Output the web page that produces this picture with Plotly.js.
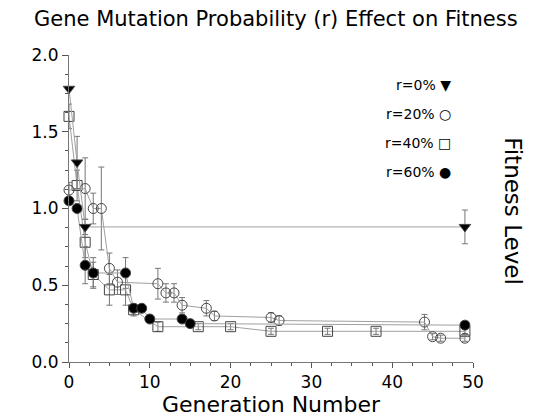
<!DOCTYPE html>
<html>
<head>
<meta charset="utf-8">
<script src="https://cdn.plot.ly/plotly-3.0.1.min.js"></script>
<style>html,body{margin:0;padding:0;background:#fff;}#chart{width:535px;height:417px;}</style>
</head>
<body>
<div id="chart"></div>
<script>
// r = 0%
const x0 = [0, 1, 2, 49];
const y0 = [1.78, 1.30, 0.88, 0.88];
const e0 = [0, 0.17, 0.05, 0.11];
// r = 20%
const x20 = [0, 2, 3, 4, 5, 6, 11, 12, 13, 14, 17, 18, 25, 26, 44, 45, 46, 49];
const y20 = [1.12, 1.13, 1.0, 1.0, 0.61, 0.52, 0.51, 0.45, 0.45, 0.37, 0.35, 0.30, 0.29, 0.27, 0.26, 0.165, 0.155, 0.155];
const e20 = [0.05, 0.2, 0.1, 0.27, 0.1, 0.08, 0.1, 0.06, 0.06, 0.05, 0.05, 0.03, 0.03, 0.03, 0.05, 0.02, 0.02, 0.02];
// r = 40%
const x40 = [0, 1, 2, 3, 5, 7, 8, 11, 16, 20, 25, 32, 38, 49];
const y40 = [1.60, 1.15, 0.78, 0.57, 0.47, 0.47, 0.34, 0.23, 0.23, 0.23, 0.20, 0.20, 0.20, 0.20];
const e40 = [0.08, 0.1, 0.1, 0.08, 0.1, 0.1, 0.04, 0.03, 0.02, 0.02, 0.02, 0.02, 0.02, 0.02];
// r = 60%
const x60 = [0, 1, 2, 3, 7, 8, 9, 10, 14, 15, 49];
const y60 = [1.05, 1.0, 0.63, 0.58, 0.58, 0.35, 0.35, 0.28, 0.28, 0.25, 0.24];
const e60 = [0, 0, 0.12, 0.1, 0.1, 0, 0, 0, 0, 0, 0];

const legendLabels = ["r=0% \u25BC", "r=20% \u25CB", "r=40% \u25A1", "r=60% \u25CF"];
const titleText = "Gene Mutation Probability (r) Effect on Fitness";
const xTitle = "Generation Number";
const yTitle = "Fitness Level";

const FONT = "DejaVu Sans, sans-serif";

function series(x, y, e, symbol, fill) {
  return {
    type: "scatter", mode: "lines+markers", x: x, y: y,
    cliponaxis: false,
    line: {color: "#a0a0a0", width: 1},
    marker: {symbol: symbol, size: 10, color: fill, line: {color: "#444", width: 1}},
    error_y: {type: "data", array: e, visible: true, color: "#777", thickness: 1, width: 3},
    showlegend: false
  };
}

const data = [
  series(x40, y40, e40, "square-open", "#444"),
  series(x20, y20, e20, "circle-open", "#444"),
  series(x60, y60, e60, "circle", "#000"),
  series(x0, y0, e0, "triangle-down", "#000")
];

const annotations = legendLabels.map((t, i) => ({
  xref: "paper", yref: "paper", x: 0.95, y: 0.903 - i * 0.095,
  xanchor: "right", yanchor: "middle", showarrow: false,
  text: t, font: {family: FONT, size: 14, color: "#000"}
}));
annotations.push({
  xref: "paper", yref: "paper", x: 1.1, y: 0.49, xanchor: "center", yanchor: "middle",
  showarrow: false, textangle: 90, text: yTitle,
  font: {family: FONT, size: 23, color: "#000"}
});

const layout = {
  width: 535, height: 417,
  margin: {l: 69, r: 62, t: 55, b: 55},
  paper_bgcolor: "#fff", plot_bgcolor: "#fff",
  font: {family: FONT, size: 16, color: "#000"},
  title: {text: titleText, x: 0.512, xref: "paper", xanchor: "center", y: 0.955, yanchor: "middle",
          font: {family: FONT, size: 21, color: "#000"}},
  xaxis: {
    range: [0, 50], dtick: 10, tick0: 0, showgrid: false, zeroline: false,
    showline: true, linecolor: "#777", linewidth: 1,
    ticks: "outside", ticklen: 5, tickcolor: "#555",
    minor: {dtick: 2.5, ticks: "outside", ticklen: 3, tickcolor: "#555", showgrid: false},
    tickfont: {family: FONT, size: 17},
    title: {text: xTitle, standoff: 0, font: {family: FONT, size: 22}}
  },
  yaxis: {
    range: [0, 2], dtick: 0.5, tick0: 0, tickformat: ".1f", showgrid: false, zeroline: false,
    showline: true, linecolor: "#777", linewidth: 1,
    ticks: "outside", ticklen: 6, tickcolor: "#555",
    minor: {dtick: 0.125, ticks: "outside", ticklen: 3, tickcolor: "#555", showgrid: false},
    tickfont: {family: FONT, size: 17}
  },
  annotations: annotations
};

Plotly.newPlot("chart", data, layout, {displayModeBar: false, staticPlot: true});
</script>
</body>
</html>
